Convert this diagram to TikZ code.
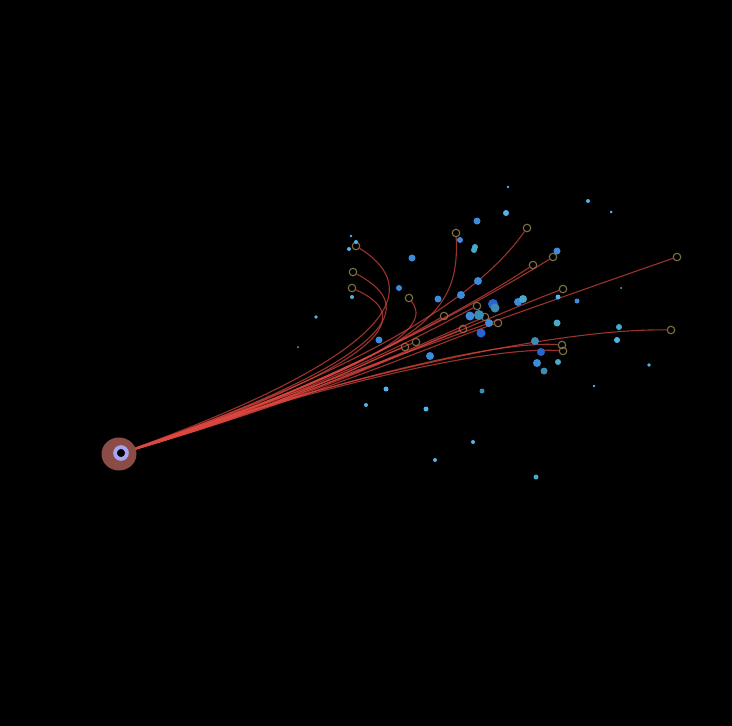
\documentclass[tikz,border=0pt]{standalone}
\definecolor{arista}{RGB}{222,72,64}
\definecolor{borde}{RGB}{125,115,65}
\definecolor{nucleo}{RGB}{140,76,70}
\definecolor{anillo}{RGB}{165,165,245}
\definecolor{lb}{RGB}{80,180,235}
\definecolor{mb}{RGB}{60,140,220}
\definecolor{db}{RGB}{40,100,210}
\definecolor{tl}{RGB}{70,170,200}
\definecolor{st}{RGB}{60,140,180}
\tikzset{
    hubnode/.style={ellipse, fill=nucleo, minimum width=35, minimum height=33, inner sep=0},
    ringnode/.style={circle, draw=anillo, line width=3.8, fill=black, minimum size=11.8, inner sep=0},
    endpt/.style={circle, draw=borde, line width=1.1, minimum size=7.5, inner sep=0},
    dot/.style={circle, inner sep=0},
    edge/.style={draw=arista, line width=1.1, opacity=0.7}
}
\usetikzlibrary{shapes.geometric}
\begin{document}
\begin{tikzpicture}[x=1pt, y=-1pt]
    \fill[black] (0,0) rectangle (732,726);
    \useasboundingbox (0,0) rectangle (732,726);

    % nodo central
    \node[hubnode] (hub) at (119,454) {};

    % extremos huecos de las aristas
    \foreach \x/\y [count=\i] in {356/246, 353/272, 352/288, 456/233, 527/228,
            409/298, 444/316, 477/306, 485/317, 498/323, 463/329, 416/342, 405/347,
            533/265, 553/257, 563/289, 677/257, 671/330, 562/345, 563/351}
        \node[endpt] (t\i) at (\x,\y) {};

    % cada arista sale del centro en la misma direccion y se curva hacia su extremo
    \foreach \i/\a/\b in {1/{430,340}/{410,280}, 2/{430,345}/{405,300}, 3/{425,350}/{400,310},
            4/{420,350}/{460,320}, 5/{410,352}/{490,280}, 6/{400,360}/{430,325},
            7/{320,390}/{400,340}, 8/{330,388}/{430,330}, 9/{330,390}/{440,335},
            10/{330,392}/{450,338}, 11/{320,395}/{420,345}, 12/{300,400}/{380,355},
            13/{300,400}/{370,360}, 14/{330,388}/{480,300}, 15/{330,388}/{500,290},
            16/{330,390}/{500,312}, 17/{300,392}/{500,318}, 18/{340,375}/{560,328},
            19/{340,378}/{500,340}, 20/{340,378}/{500,346}}
        \draw[edge] (hub) .. controls (\a) and (\b) .. (t\i);

    % puntos sueltos
    \foreach \x/\y/\d/\c [count=\i] in {508/187/2.6/lb, 588/201/4/lb, 611/212/3/lb, 506/213/6/lb,
            477/221/7/mb, 460/240/6/mb, 475/247/6/tl, 474/250/6/tl, 557/251/7/mb, 412/258/7/mb,
            351/236/2.6/lb, 356/242/4/lb, 349/249/4/lb, 352/297/4/lb, 316/317/3.6/lb, 298/347/2/lb,
            399/288/6/mb, 438/299/7/mb, 461/295/8/mb, 478/281/8/mb, 493/304/10/db, 495/308/9/st,
            518/302/8/mb, 523/299/8/tl, 558/297/5/lb, 577/301/5/mb, 621/288/2/lb, 557/323/7/tl,
            619/327/6/tl, 617/340/6/lb, 649/365/3.6/lb, 594/386/2.6/lb, 470/316/9/mb, 479/315/10/st,
            489/323/8/mb, 481/333/9/db, 535/341/8/st, 541/352/8/db, 537/363/8/mb, 558/362/6/tl,
            544/371/7/st, 379/340/7/mb, 430/356/8/mb, 386/389/5/lb, 366/405/4/lb, 426/409/5/lb,
            482/391/5/st, 473/442/4/lb, 435/460/4/lb, 536/477/5/tl}
        \node[dot, fill=\c, minimum size=\d] (d\i) at (\x,\y) {};

    % anillo interior
    \node[ringnode] (core) at (121,453) {};
\end{tikzpicture}
\end{document}
